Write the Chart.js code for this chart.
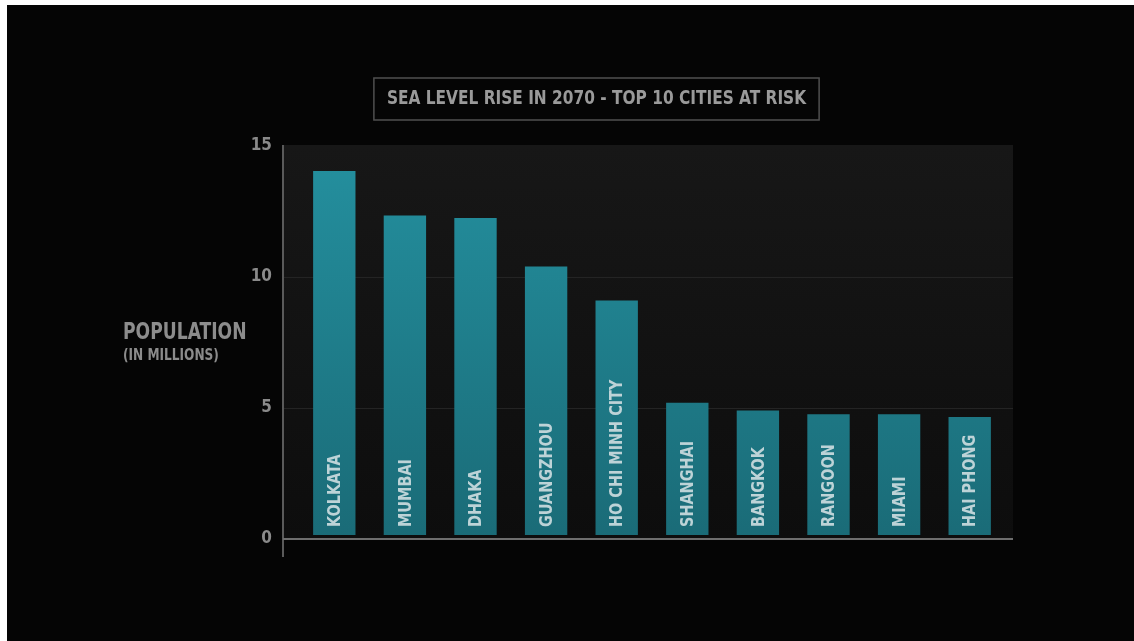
<!DOCTYPE html>
<html>
<head>
<meta charset="utf-8">
<script src="https://cdn.jsdelivr.net/npm/chart.js@4.4.1/dist/chart.umd.min.js"></script>
<style>
  html, body { margin: 0; padding: 0; background: #ffffff; width: 1134px; height: 641px; overflow: hidden; }
  #wrap { position: absolute; left: 7px; top: 5px; width: 1127px; height: 636px; background: #050505; }
  canvas { display: block; }
</style>
</head>
<body>
<div id="wrap"><canvas id="c" width="1127" height="636"></canvas></div>
<script>
const categories = ["KOLKATA", "MUMBAI", "DHAKA", "GUANGZHOU", "HO CHI MINH CITY", "SHANGHAI", "BANGKOK", "RANGOON", "MIAMI", "HAI PHONG"];
const population = [14.05, 12.35, 12.25, 10.4, 9.1, 5.2, 4.9, 4.76, 4.76, 4.66];
const yTicks = [0, 5, 10, 15];
const chartTitle = "SEA LEVEL RISE IN 2070 - TOP 10 CITIES AT RISK";
const yTitle = ["POPULATION", "(IN MILLIONS)"];

const FONT = "'Liberation Sans Narrow', 'DejaVu Sans Condensed', 'Arial Narrow', sans-serif";

function narrowText(ctx, text, x, y, sx) {
  ctx.save();
  ctx.translate(x, y);
  ctx.scale(sx, 1);
  ctx.fillText(text, 0, 0);
  ctx.restore();
}

const decor = {
  id: 'decor',
  beforeDatasetsDraw(chart) {
    const {ctx, chartArea: a} = chart;
    ctx.save();
    const bg = ctx.createLinearGradient(0, a.top, 0, a.bottom);
    bg.addColorStop(0, '#171717');
    bg.addColorStop(1, '#0d0d0d');
    ctx.fillStyle = bg;
    ctx.fillRect(a.left - 16, a.top - 1, (a.right + 8) - (a.left - 16), a.bottom - a.top + 1);
    const ys = chart.scales.y;
    ctx.strokeStyle = '#242424';
    ctx.lineWidth = 1;
    yTicks.forEach(v => {
      if (v === 0 || v === 15) return;
      const y = Math.round(ys.getPixelForValue(v)) + 0.5;
      ctx.beginPath(); ctx.moveTo(a.left - 16, y); ctx.lineTo(a.right + 8, y); ctx.stroke();
    });
    ctx.restore();
  },
  afterDatasetsDraw(chart) {
    const {ctx, chartArea: a} = chart;
    const ys = chart.scales.y;
    ctx.save();
    ctx.strokeStyle = '#5a5a5a';
    ctx.lineWidth = 2;
    ctx.beginPath(); ctx.moveTo(a.left - 16, a.top - 1); ctx.lineTo(a.left - 16, a.bottom + 18); ctx.stroke();
    ctx.strokeStyle = '#6e6e6e';
    const y0 = ys.getPixelForValue(0);
    ctx.beginPath(); ctx.moveTo(a.left - 16, y0); ctx.lineTo(a.right + 8, y0); ctx.stroke();

    // labels inside bars
    const meta = chart.getDatasetMeta(0);
    ctx.fillStyle = '#bdd3d7';
    ctx.font = 'bold 18px ' + FONT;
    ctx.textAlign = 'left';
    ctx.textBaseline = 'middle';
    meta.data.forEach((bar, i) => {
      ctx.save();
      ctx.translate(bar.x + 1, y0 - 12);
      ctx.rotate(-Math.PI / 2);
      ctx.scale(0.89, 1);
      ctx.fillText(categories[i], 0, 0);
      ctx.restore();
    });

    // title box
    ctx.font = 'bold 19px ' + FONT;
    ctx.fillStyle = '#9a9a9a';
    ctx.textAlign = 'center';
    ctx.textBaseline = 'middle';
    const tx = 589.5, ty = 94, sx = 0.9;
    narrowText(ctx, chartTitle, tx, ty, sx);
    const w = ctx.measureText(chartTitle).width * sx + 26;
    ctx.strokeStyle = '#505050';
    ctx.lineWidth = 1.5;
    ctx.strokeRect(tx - w / 2, ty - 21, w, 42);

    // y title
    ctx.textAlign = 'left';
    ctx.textBaseline = 'alphabetic';
    ctx.fillStyle = '#8c8c8c';
    ctx.font = 'bold 23px ' + FONT;
    narrowText(ctx, yTitle[0], 116, 334, 0.83);
    ctx.font = 'bold 15px ' + FONT;
    narrowText(ctx, yTitle[1], 116, 355, 0.9);
    ctx.restore();
  }
};

new Chart(document.getElementById('c'), {
  type: 'bar',
  data: {
    labels: categories,
    datasets: [{
      data: population,
      base: 0.15,
      backgroundColor(ctx) {
        const a = ctx.chart.chartArea;
        if (!a) return '#1f7f8c';
        const g = ctx.chart.ctx.createLinearGradient(0, a.top, 0, a.bottom);
        g.addColorStop(0, '#24909f');
        g.addColorStop(1, '#1a6b77');
        return g;
      },
      borderWidth: 0,
      barPercentage: 0.6,
      categoryPercentage: 1.0
    }]
  },
  options: {
    responsive: false,
    animation: false,
    layout: { padding: { left: 0, right: 129, top: 141, bottom: 102 } },
    plugins: { legend: { display: false }, title: { display: false }, tooltip: { enabled: false } },
    scales: {
      x: { display: false },
      y: {
        min: 0, max: 15,
        afterFit(scale) { scale.width = 292; },
        afterBuildTicks(scale) { scale.ticks = yTicks.map(v => ({ value: v })); },
        border: { display: false },
        grid: { display: false, drawTicks: false },
        ticks: {
          padding: 27,
          color: '#8a8a8a',
          font: { family: FONT, size: 17, weight: 'bold' }
        }
      }
    }
  },
  plugins: [decor]
});
</script>
</body>
</html>
